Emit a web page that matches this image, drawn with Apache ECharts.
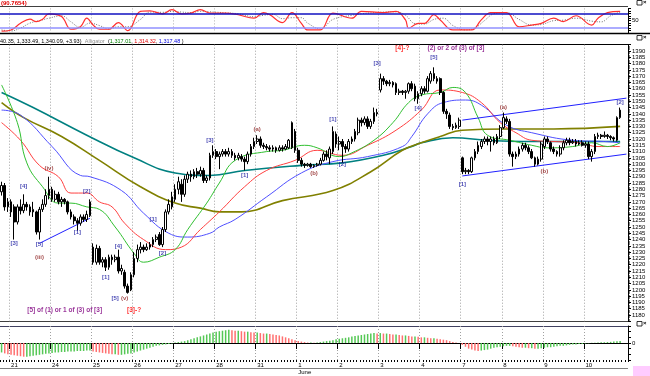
<!DOCTYPE html>
<html><head><meta charset="utf-8">
<script src="https://cdn.jsdelivr.net/npm/echarts@6/dist/echarts.min.js"></script>
<style>html,body{margin:0;padding:0;background:#fff}#c{width:650px;height:376px}</style>
</head><body><div id="c"></div>
<script>
// ---- data ----
const days = ['20','21','24','25','26','27','28','31','1','2','3','4','7','8','9','10'];
const dayBars = [3,13,13,13,13,13,13,13,13,13,13,13,13,13,13,14];
// [open, close, low, high] per 30-min bar
const candles = [
// 20
[1278,1283,1275,1286],[1283,1266,1263,1285],[1266,1270,1262,1273],
// 21
[1270,1262,1258,1272],[1266,1254,1240,1268],[1254,1266,1252,1268],[1266,1263,1260,1272],[1263,1268,1261,1276],[1268,1266,1263,1270],[1266,1262,1259,1268],[1262,1264,1258,1270],[1262,1246,1244,1263],[1246,1264,1240,1266],[1264,1268,1262,1272],[1268,1275,1266,1280],[1275,1280,1272,1290],
// 24
[1280,1272,1270,1282],[1272,1276,1270,1279],[1276,1270,1268,1278],[1270,1272,1266,1274],[1272,1270,1268,1273],[1270,1262,1260,1271],[1262,1258,1256,1264],[1258,1255,1252,1260],[1255,1253,1247,1257],[1253,1258,1251,1260],[1258,1256,1254,1260],[1256,1260,1254,1263],[1259,1270,1258,1272],
// 25
[1234,1222,1220,1237],[1222,1233,1220,1236],[1233,1222,1220,1235],[1222,1224,1218,1226],[1224,1218,1215,1226],[1218,1226,1216,1228],[1226,1224,1220,1228],[1224,1226,1222,1228],[1226,1215,1213,1232],[1215,1217,1212,1220],[1214,1203,1201,1216],[1203,1198,1197,1205],[1200,1212,1199,1214],
// 26
[1212,1225,1210,1230],[1225,1232,1222,1236],[1232,1234,1229,1238],[1234,1232,1230,1236],[1232,1234,1231,1237],[1234,1236,1232,1238],[1236,1240,1234,1242],[1240,1242,1238,1244],[1244,1236,1235,1246],[1236,1248,1234,1250],[1248,1262,1246,1264],[1262,1268,1260,1272],[1266,1274,1264,1278],
// 27
[1272,1280,1270,1284],[1280,1286,1276,1290],[1284,1276,1270,1288],[1276,1288,1274,1291],[1288,1292,1285,1294],[1292,1290,1286,1295],[1290,1294,1288,1296],[1294,1292,1289,1297],[1292,1295,1290,1298],[1295,1287,1285,1297],[1287,1289,1285,1291],[1289,1307,1287,1309],[1307,1310,1305,1315],
// 28
[1310,1306,1304,1312],[1306,1308,1296,1310],[1308,1310,1306,1312],[1310,1308,1306,1312],[1308,1310,1306,1313],[1310,1307,1305,1312],[1307,1305,1303,1309],[1305,1307,1303,1309],[1306,1304,1302,1308],[1304,1302,1295,1306],[1302,1308,1300,1310],[1308,1314,1306,1316],[1314,1318,1312,1321],
// 31
[1318,1320,1316,1323],[1320,1315,1313,1322],[1315,1314,1312,1317],[1314,1313,1311,1316],[1313,1312,1310,1315],[1312,1313,1310,1315],[1313,1311,1309,1314],[1311,1313,1310,1315],[1313,1312,1310,1315],[1312,1314,1311,1316],[1313,1319,1312,1320],[1313,1333,1312,1334],[1326,1311,1309,1328],
// 1
[1311,1303,1301,1313],[1303,1300,1298,1305],[1300,1299,1297,1301],[1299,1300,1298,1301],[1300,1298,1297,1301],[1298,1299,1297,1300],[1299,1300,1298,1301],[1300,1303,1299,1305],[1303,1308,1302,1310],[1308,1306,1303,1311],[1305,1312,1300,1314],[1310,1326,1308,1330],[1324,1316,1313,1326],
// 2
[1316,1318,1311,1322],[1318,1314,1301,1320],[1314,1312,1309,1316],[1312,1318,1310,1320],[1318,1320,1316,1322],[1320,1326,1318,1328],[1325,1335,1323,1337],[1335,1333,1330,1337],[1333,1336,1331,1338],[1336,1330,1328,1338],[1330,1334,1328,1336],[1334,1341,1332,1345],[1341,1340,1338,1344],
// 3
[1359,1368,1357,1372],[1368,1366,1363,1370],[1366,1364,1362,1367],[1364,1365,1362,1367],[1365,1363,1361,1366],[1364,1357,1355,1365],[1357,1358,1355,1360],[1358,1357,1355,1359],[1357,1358,1352,1359],[1358,1364,1356,1365],[1364,1360,1358,1366],[1362,1352,1350,1364],[1352,1356,1348,1358],
// 4
[1356,1360,1354,1362],[1360,1358,1356,1362],[1358,1368,1357,1370],[1366,1372,1364,1374],[1372,1368,1366,1377],[1368,1366,1364,1370],[1368,1357,1355,1369],[1357,1342,1340,1358],[1342,1340,1336,1344],[1339,1330,1328,1341],[1330,1329,1327,1332],[1329,1331,1328,1333],[1330,1335,1328,1337],
// 7
[1305,1294,1292,1306],[1294,1295,1292,1297],[1295,1294,1292,1296],[1294,1305,1293,1306],[1305,1310,1303,1312],[1310,1315,1308,1318],[1314,1318,1312,1320],[1318,1320,1316,1322],[1320,1318,1315,1322],[1318,1320,1310,1322],[1320,1317,1315,1322],[1317,1322,1316,1324],[1322,1329,1320,1331],
// 8
[1329,1337,1328,1341],[1336,1334,1332,1338],[1334,1308,1306,1336],[1308,1306,1298,1310],[1306,1308,1304,1310],[1308,1312,1306,1314],[1312,1315,1310,1317],[1315,1313,1311,1317],[1313,1310,1308,1315],[1310,1305,1304,1312],[1305,1300,1298,1306],[1300,1304,1299,1306],[1304,1316,1302,1318],
// 9
[1314,1320,1312,1322],[1320,1318,1316,1322],[1317,1312,1310,1318],[1312,1310,1308,1314],[1310,1308,1306,1311],[1308,1313,1306,1315],[1313,1317,1311,1319],[1317,1319,1315,1321],[1319,1317,1315,1321],[1317,1318,1316,1320],[1318,1316,1314,1320],[1316,1317,1315,1319],[1317,1315,1314,1319],
// 10
[1315,1316,1313,1318],[1316,1306,1304,1318],[1306,1310,1302,1312],[1310,1322,1308,1324],[1322,1323,1320,1325],[1323,1322,1320,1324],[1322,1323,1321,1326],[1323,1322,1320,1324],[1322,1321,1319,1323],[1321,1320,1318,1322],[1319,1337,1318,1338],[1337,1343,1336,1345]
];
// moving averages: [bar index, price]
const lips = [[0,1363],[5,1333],[8,1301],[13,1282],[18,1269],[22,1269],[27,1266],[31,1264],[36,1250],[42,1229],[45,1222],[50,1226],[55,1232],[59,1248],[65,1269],[69,1285],[74,1303],[84,1310],[89,1311],[96,1315],[100,1313],[107,1306],[111,1309],[118,1319],[124,1333],[129,1349],[133,1355],[139,1357],[143,1361],[147,1357],[151,1337],[154,1323],[161,1319],[168,1315],[173,1313],[181,1314],[187,1317],[192,1314],[196,1317]];
const teeth = [[0,1333],[6,1319],[12,1299],[18,1290],[22,1277],[27,1277],[31,1270],[35,1266],[39,1253],[45,1240],[52,1232],[57,1234],[63,1248],[69,1262],[77,1282],[84,1295],[93,1303],[100,1311],[108,1307],[116,1315],[125,1327],[133,1343],[139,1359],[146,1357],[152,1349],[158,1333],[163,1325],[168,1319],[175,1318],[183,1317],[189,1314],[196,1314]];
const jaw = [[0,1343],[6,1339],[16,1314],[25,1291],[28,1290],[38,1279],[45,1261],[53,1245],[59,1242],[66,1245],[69,1250],[74,1256],[84,1274],[95,1293],[105,1302],[116,1306],[127,1314],[130,1322],[135,1340],[140,1349],[147,1351],[152,1347],[160,1331],[168,1325],[181,1319],[191,1318],[196,1317]];
const maOlive = [[0,1349],[7,1337],[19,1322],[31,1303],[44,1282],[55,1269],[63,1265],[69,1262],[76,1262],[89,1271],[105,1279],[117,1294],[127,1311],[133,1317],[139,1322],[146,1327],[160,1328],[175,1328],[196,1330]];
const maTeal = [[0,1357],[10,1345],[27,1323],[42,1305],[55,1293],[66,1291],[77,1295],[95,1299],[108,1301],[121,1307],[130,1314],[133,1317],[143,1321],[154,1319],[165,1318],[181,1318],[196,1318]];
// stochastic (top panel)
const stoK = [[0,7],[3,12],[6,39],[9,56],[11,46],[13,56],[15,78],[19,67],[22,15],[25,25],[27,60],[29,32],[31,15],[34,15],[37,42],[40,9],[44,88],[47,90],[51,78],[54,95],[57,78],[60,81],[63,95],[66,81],[71,81],[75,74],[80,60],[83,83],[85,74],[89,42],[92,83],[95,39],[97,12],[101,12],[105,81],[111,60],[114,88],[121,83],[125,88],[128,53],[129,19],[132,39],[134,39],[137,74],[139,53],[143,12],[149,12],[152,53],[155,83],[160,83],[164,25],[168,32],[171,39],[175,60],[178,46],[182,70],[187,32],[189,60],[192,83],[196,88]];
const stoD = [[0,12],[3,8],[6,20],[9,40],[12,50],[15,60],[19,70],[22,45],[25,22],[28,40],[31,30],[34,16],[37,25],[40,25],[44,55],[47,85],[51,84],[54,88],[57,85],[60,83],[63,88],[66,86],[71,82],[75,78],[80,66],[83,72],[86,76],[89,58],[92,62],[95,62],[97,40],[101,16],[105,55],[111,72],[114,78],[121,85],[125,86],[128,72],[131,38],[134,36],[137,55],[140,60],[143,30],[147,12],[150,20],[153,50],[156,78],[160,83],[164,55],[168,32],[171,34],[175,50],[178,52],[182,60],[187,48],[190,45],[193,70],[196,85]];
// oscillator histogram (bottom panel)
const hist = [-10,-11,-12,-12.5,-13,-13.5,-14,-14.5,-14.5,-14,-13.5,-13,-12.5,-12,-11.5,-11,
-10.5,-10,-10,-9.5,-9.5,-9,-9,-9,-8.5,-8.5,-8.5,-8,-8,
-9,-9.5,-10,-10.5,-11,-11.5,-12,-12,-12.5,-12.5,-12,-11.5,-11,
-10,-9,-8,-7,-6,-5,-4,-3,-2.5,-2,-1.5,-1,-0.5,
0.5,1,1.5,2,3,4,5,6,7,8,9,10,11,
12,12.5,13,13.5,14,13.5,13,13,12.5,12,12,11.5,11,
11,10.5,10,10,9.5,9,8.5,8,7,6,5,4,3,
2,1.5,1,0.5,0.5,0.3,0.5,1,1.5,2,2.5,3,4,
4.5,5,5.5,6,7,7.5,8,8.5,9,9.5,10,10.5,10,
10.5,10,10,9.5,9,9,8.5,8,8,7.5,7,7,6.5,
6,6,5.5,5,5,4.5,4,3.5,3,2,1,0.5,0,
-2,-4,-6,-7,-8,-8.5,-8,-7.5,-7,-6,-5,-4.5,-4,
-3.5,-3,-3,-3.5,-4,-4.5,-5,-5,-5.5,-5.5,-6,-6,-5.5,
-5,-4.5,-4.5,-4,-3.5,-3,-3,-2.5,-2,-1.5,-1.5,-1,-1,
-0.5,-0.3,0.2,0.3,0.5,0.7,0.8,1,1.2,1.5,1.8,2];
// wave labels: [bar index, price, text, kind]
const notes = [
[4,1237,'[3]','b'],[7,1282,'[4]','b'],[12,1236,'[5]','b'],[12,1226,'(iii)','r'],[15,1297,'(iv)','r'],
[24,1246,'[1]','b'],[27,1278,'[2]','b'],[33,1210,'[1]','b'],[37,1235,'[4]','b'],[36,1193,'[5]','b'],[39,1193,'(v)','r'],
[48,1256,'[1]','b'],[51,1229,'[2]','b'],[66,1319,'[3]','b'],[77,1291,'[1]','b'],[81,1328,'(a)','r'],[99,1293,'(b)','r'],
[105,1336,'[1]','b'],[108,1300,'[2]','b'],[119,1380,'[3]','b'],[132,1344,'[4]','b'],[137,1385,'[5]','b'],
[146,1284,'[1]','b'],[159,1345,'(a)','r'],[172,1294,'(b)','r'],[196,1349,'[2]','b']];
const bigNotes = [[42,1184,'[3]-?','red'],[20,1184,'[5] of (1) or 1 of (3) of [3]','purple'],[127,1392,'[4]-?','red'],[144,1392,'(2) or 2 of (3) of [3]','purple']];
const trendLines = [[[12,1237],[28,1257]],[[146,1335],[198,1352.5]],[[146,1290.6],[198,1308]]];

// ---- build ----
const cats = []; const dayStart = new Set();
days.forEach((d,k)=>{ for(let b=0;b<dayBars[k];b++){ if(b===0) dayStart.add(cats.length); cats.push(d+'|'+b);} });
const isDay = (i)=> i>0 && dayStart.has(i);
const GL=-1.2, GR=22;
const F='Liberation Sans';
const grids=[{left:GL,right:GR,top:8.4,height:24.5},{left:GL,right:GR,top:44.7,height:276.6},{left:GL,right:GR,top:326,height:36.5}];
const split = (c)=>({show:true,interval:(i)=>isDay(i),lineStyle:{color:c,type:[1,2],width:1}});
const xAxes=[
 {type:'category',gridIndex:0,data:cats,axisLine:{show:false},axisTick:{show:false},axisLabel:{show:false},splitLine:split('#b0b0b0')},
 {type:'category',gridIndex:1,data:cats,axisLine:{show:false},axisTick:{show:false},axisLabel:{show:false},splitLine:split('#a0a0a0')},
 {type:'category',gridIndex:2,data:cats,axisLine:{show:true,lineStyle:{color:'#000',width:1}},
  axisTick:{show:true,interval:(i)=>isDay(i),length:6,inside:false,lineStyle:{color:'#000'}},
  axisLabel:{show:true,interval:(i)=>isDay(i),align:'left',margin:2,fontSize:6,fontFamily:F,color:'#000',lineHeight:7,
    formatter:(v)=>{const d=v.split('|')[0];return d==='1'?'1\nJune':d;}},splitLine:split('#a0a0a0')},
 {type:'category',gridIndex:2,data:cats,position:'bottom',axisLine:{show:false},axisTick:{show:true,interval:0,length:2,lineStyle:{color:'#000'}},axisLabel:{show:false}}
];
const yAx=(g,min,max,iv,fmt,extra)=>Object.assign({type:'value',gridIndex:g,position:'right',min,max,interval:iv,scale:false,
 axisLine:{show:true,lineStyle:{color:'#000'}},axisTick:{show:true,length:3,lineStyle:{color:'#000'}},splitLine:{show:false},
 axisLabel:{show:true,margin:4,fontSize:6,fontFamily:F,color:'#000',formatter:fmt}},extra||{});
const yAxes=[
 yAx(0,0,100,10,(v)=>v===50?'50':''),
 yAx(1,1175,1395,5,(v)=>(v===1175||v===1395)?'':String(v),{minorTick:{show:true,splitNumber:5,length:1.5,lineStyle:{color:'#000'}}}),
 yAx(2,-18,18,6,(v)=>v===0?'0':'')
];
const lineS=(data,color,w,extra)=>Object.assign({type:'line',xAxisIndex:1,yAxisIndex:1,data,smooth:0.45,showSymbol:false,symbol:'none',lineStyle:{color,width:w},z:3,silent:true},extra||{});
const noteColor={b:'#1a1aa0',r:'#8b1a1a'};
const series=[
 {type:'line',xAxisIndex:0,yAxisIndex:0,data:stoD,smooth:0.4,symbol:'none',lineStyle:{color:'#707070',width:1,type:[1,1.5]},
  markLine:{silent:true,symbol:'none',label:{show:false},data:[{yAxis:80,lineStyle:{color:'#1010c0',width:1.5,type:'solid'}},{yAxis:20,lineStyle:{color:'#9090ff',width:1.5,type:'solid'}}]}},
 {type:'line',xAxisIndex:0,yAxisIndex:0,data:stoK,smooth:0.4,symbol:'none',lineStyle:{color:'#ff3030',width:1.2}},
 lineS(maTeal,'#008080',1.6),
 lineS(maOlive,'#808000',1.6),
 lineS(jaw,'#5050ff',1),
 lineS(teeth,'#ff4040',1),
 lineS(lips,'#30c030',1),
 {type:'candlestick',xAxisIndex:1,yAxisIndex:1,data:candles,barWidth:2.2,z:5,
  itemStyle:{color:'#ffffff',color0:'#000000',borderColor:'#000000',borderColor0:'#000000',borderWidth:1},
  markLine:{silent:true,symbol:'none',label:{show:false},lineStyle:{color:'#2020ff',width:1,type:'solid'},
   data:trendLines.map(t=>[{coord:t[0]},{coord:t[1]}])}},
 {type:'scatter',xAxisIndex:1,yAxisIndex:1,symbolSize:0,z:6,silent:true,
  data:notes.map(n=>({value:[n[0],n[1]],label:{show:true,position:'inside',formatter:n[2],color:noteColor[n[3]],fontSize:6,fontWeight:'bold',fontFamily:F}}))},
 {type:'scatter',xAxisIndex:1,yAxisIndex:1,symbolSize:0,z:6,silent:true,
  data:bigNotes.map(n=>({value:[n[0],n[1]],label:{show:true,position:'inside',formatter:n[2],color:n[3],fontSize:6.5,fontWeight:'bold',fontFamily:F}}))},
 {type:'bar',xAxisIndex:2,yAxisIndex:2,barWidth:1.5,silent:true,
  data:hist.map((v,i)=>({value:v,itemStyle:{color:(i>0&&v<hist[i-1])?'#ff7070':'#55c855'}}))}
];
const hl=(y,x1,x2,c,w)=>({type:'line',silent:true,shape:{x1,y1:y,x2,y2:y},style:{stroke:c,lineWidth:w||1}});
const graphic=[
 hl(6.5,0,628,'#404040',1),hl(33.5,0,650,'#000',1.5),hl(44.5,0,628,'#000',1),hl(321.5,0,628,'#404040',1),hl(326.5,0,628,'#404060',1),hl(368.5,0,628,'#808080',1),
 {type:'text',left:1,top:0,silent:true,style:{text:'(90.7654)',fill:'#e00000',font:'bold 6px '+F}},
 {type:'text',left:0,top:35.5,silent:true,style:{text:'{k|40.35, 1,333.49, 1,340.09, +3.93)} {g|Alligator} {k|(}{gr|1,317.01}{k|, }{rd|1,314.32}{k|, }{bl|1,317.48}{k| )}',
   rich:{k:{fill:'#000',font:'5.5px '+F},g:{fill:'#909090',font:'5.5px '+F},gr:{fill:'#008000',font:'5.5px '+F},rd:{fill:'#e00000',font:'5.5px '+F},bl:{fill:'#0000e0',font:'5.5px '+F}}}},
 {type:'rect',silent:true,shape:{x:637,y:0.5,width:5,height:4.5},style:{fill:'#fff',stroke:'#000',lineWidth:0.8}},
 {type:'text',silent:true,left:643,top:-0.5,style:{text:'×',fill:'#000',font:'bold 6px '+F}},
 {type:'rect',silent:true,shape:{x:637,y:35.5,width:5,height:4.5},style:{fill:'#fff',stroke:'#000',lineWidth:0.8}},
 {type:'text',silent:true,left:643,top:34.5,style:{text:'×',fill:'#000',font:'bold 6px '+F}},
 {type:'rect',silent:true,shape:{x:637,y:321.5,width:5,height:4.5},style:{fill:'#fff',stroke:'#000',lineWidth:0.8}},
 {type:'text',silent:true,left:643,top:320.5,style:{text:'×',fill:'#000',font:'bold 6px '+F}},
 {type:'rect',silent:true,shape:{x:633,y:366,width:17,height:10},style:{fill:'#ffccff'}}
];
const chart=echarts.init(document.getElementById('c'),null,{renderer:'canvas'});
chart.setOption({animation:false,backgroundColor:'#fff',grid:grids,xAxis:xAxes,yAxis:yAxes,series,graphic});
</script></body></html>
